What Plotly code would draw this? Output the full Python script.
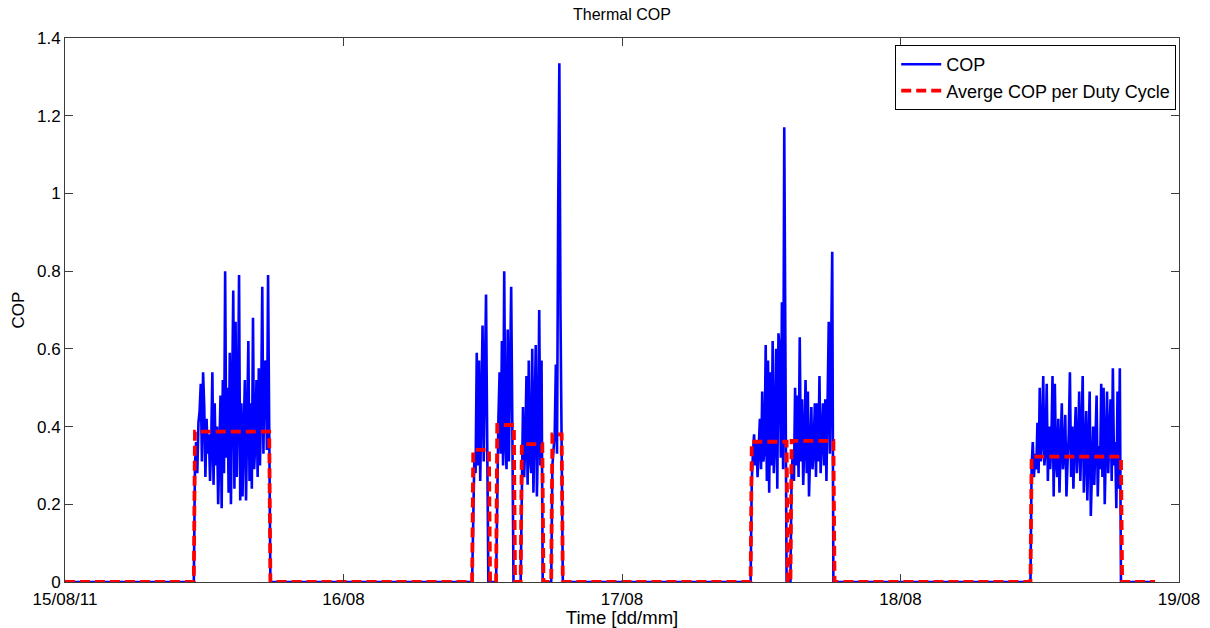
import plotly.graph_objects as go
import pandas as pd

# ---------------- data ----------------
series_start = "2011-08-15 00:00"
series_end = "2011-08-18 21:56"
sample_minutes = 6

# duty cycles: start time, end time, average COP
cycle_start = ["2011-08-15 11:12", "2011-08-16 11:11", "2011-08-16 13:15", "2011-08-16 15:22",
               "2011-08-16 18:00", "2011-08-17 11:11", "2011-08-17 14:37", "2011-08-18 11:18"]
cycle_end = ["2011-08-15 17:36", "2011-08-16 12:32", "2011-08-16 14:41", "2011-08-16 17:08",
             "2011-08-16 18:48", "2011-08-17 14:11", "2011-08-17 18:13", "2011-08-18 19:00"]
cycle_avg_cop = [0.387, 0.34, 0.404, 0.355, 0.38, 0.361, 0.363, 0.3225]

# measured COP inside each duty cycle (one value per sample)
cop_cycle1 = [0.30, 0.36, 0.28, 0.41, 0.44, 0.51, 0.31, 0.54, 0.45, 0.27, 0.42, 0.33, 0.38, 0.26,
              0.36, 0.54, 0.25, 0.46, 0.30, 0.40, 0.20, 0.34, 0.48, 0.19, 0.52, 0.28, 0.80, 0.32,
              0.50, 0.23, 0.59, 0.20, 0.42, 0.75, 0.24, 0.67, 0.27, 0.44, 0.79, 0.21, 0.46, 0.22,
              0.38, 0.52, 0.21, 0.40, 0.62, 0.26, 0.46, 0.24, 0.68, 0.29, 0.36, 0.52, 0.27, 0.55,
              0.30, 0.45, 0.76, 0.33, 0.56, 0.57, 0.34, 0.79, 0.30]
cop_cycle2 = [0.14, 0.33, 0.28, 0.59, 0.30, 0.57, 0.26, 0.45, 0.66, 0.31, 0.50, 0.74, 0.36]
cop_cycle3 = [0.31, 0.42, 0.54, 0.33, 0.62, 0.30, 0.80, 0.36, 0.29, 0.65, 0.31, 0.53, 0.76, 0.40]
cop_cycle4 = [0.30, 0.45, 0.27, 0.36, 0.53, 0.25, 0.57, 0.32, 0.28, 0.60, 0.23, 0.40, 0.61, 0.22,
              0.38, 0.70, 0.30, 0.57]
cop_cycle5 = [0.30, 0.34, 0.38, 0.56, 0.33, 0.96, 1.335, 0.69, 0.35]
cop_cycle6 = [0.26, 0.33, 0.38, 0.30, 0.36, 0.27, 0.34, 0.42, 0.29, 0.49, 0.31, 0.34, 0.61, 0.26,
              0.57, 0.23, 0.54, 0.30, 0.62, 0.28, 0.36, 0.60, 0.24, 0.64, 0.60, 0.32, 0.72, 0.29,
              1.17, 0.59]
cop_cycle7 = [0.28, 0.33, 0.26, 0.50, 0.30, 0.48, 0.27, 0.63, 0.31, 0.47, 0.25, 0.36, 0.52, 0.28,
              0.49, 0.22, 0.33, 0.45, 0.29, 0.34, 0.46, 0.27, 0.46, 0.31, 0.53, 0.28, 0.37, 0.46,
              0.30, 0.47, 0.26, 0.42, 0.67, 0.33, 0.68, 0.85]
cop_cycle8 = [0.30, 0.36, 0.27, 0.33, 0.29, 0.41, 0.28, 0.50, 0.31, 0.37, 0.53, 0.30, 0.34, 0.51,
              0.26, 0.40, 0.29, 0.36, 0.53, 0.22, 0.51, 0.31, 0.27, 0.42, 0.23, 0.35, 0.46, 0.29,
              0.33, 0.43, 0.22, 0.31, 0.38, 0.54, 0.27, 0.40, 0.24, 0.36, 0.45, 0.28, 0.34, 0.49,
              0.26, 0.38, 0.53, 0.23, 0.33, 0.44, 0.21, 0.37, 0.49, 0.17, 0.31, 0.40, 0.25, 0.34,
              0.48, 0.22, 0.35, 0.29, 0.51, 0.27, 0.50, 0.20, 0.34, 0.49, 0.28, 0.38, 0.47, 0.26,
              0.55, 0.30, 0.36, 0.19, 0.49, 0.24, 0.55]
cop_cycles = [cop_cycle1, cop_cycle2, cop_cycle3, cop_cycle4,
              cop_cycle5, cop_cycle6, cop_cycle7, cop_cycle8]

x_tick_vals = ["2011-08-15", "2011-08-16", "2011-08-17", "2011-08-18", "2011-08-19"]
x_tick_text = ["15/08/11", "16/08", "17/08", "18/08", "19/08"]
y_tick_vals = [0, 0.2, 0.4, 0.6, 0.8, 1.0, 1.2, 1.4]
y_tick_text = ["0", "0.2", "0.4", "0.6", "0.8", "1", "1.2", "1.4"]

# ---------------- build series ----------------
step = pd.Timedelta(minutes=sample_minutes)

cop_x = [pd.Timestamp(series_start)]
cop_y = [0.0]
avg_x = [pd.Timestamp(series_start)]
avg_y = [0.0]
for s, e, lvl, vals in zip(cycle_start, cycle_end, cycle_avg_cop, cop_cycles):
    t0 = pd.Timestamp(s)
    t1 = pd.Timestamp(e)
    times = [t0 + i * step for i in range(len(vals))]
    cop_x += [t0 - step] + times + [times[-1] + step]
    cop_y += [0.0] + list(vals) + [0.0]
    avg_x += [t0 - step, t0, t1, t1 + step]
    avg_y += [0.0, lvl, lvl, 0.0]
cop_x.append(pd.Timestamp(series_end))
cop_y.append(0.0)
avg_x.append(pd.Timestamp(series_end))
avg_y.append(0.0)

FONT = "Liberation Sans, Arial, sans-serif"

fig = go.Figure()
fig.add_trace(go.Scatter(x=cop_x, y=cop_y, mode="lines", name="COP",
                         line=dict(color="#0000ff", width=2.6)))
fig.add_trace(go.Scatter(x=avg_x, y=avg_y, mode="lines", name="Averge COP per Duty Cycle",
                         line=dict(color="#ff0000", width=3.8, dash="10px,5px")))

axis_common = dict(showline=True, linecolor="#3c3c3c", linewidth=1, mirror="ticks",
                   ticks="inside", ticklen=8, tickcolor="#3c3c3c", showgrid=False,
                   zeroline=False, automargin=False,
                   tickfont=dict(family=FONT, size=17, color="black"))

fig.update_layout(
    width=1210, height=628,
    margin=dict(l=65, r=31, t=38, b=46, autoexpand=False),
    paper_bgcolor="white", plot_bgcolor="white",
    font=dict(family=FONT, size=17, color="black"),
    title=dict(text="Thermal COP", x=0.514, xanchor="center", y=1 - 14 / 628, yanchor="middle",
               yref="container", font=dict(family=FONT, size=16, color="black")),
    xaxis=dict(type="date", range=["2011-08-15", "2011-08-19"], tickvals=x_tick_vals,
               ticktext=x_tick_text, ticklabelstandoff=2,
               title=dict(text="Time [dd/mm]", standoff=3, font=dict(family=FONT, size=18.5)),
               **axis_common),
    yaxis=dict(range=[0, 1.4], tickvals=y_tick_vals, ticktext=y_tick_text,
               title=dict(text="COP", standoff=8, font=dict(family=FONT, size=17)),
               **axis_common),
    legend=dict(x=0.9975, y=0.987, xanchor="right", yanchor="top", bgcolor="white",
                bordercolor="black", borderwidth=1, font=dict(family=FONT, size=18),
                tracegroupgap=0, itemwidth=40),
    showlegend=True,
)

fig.write_html("out.html")
